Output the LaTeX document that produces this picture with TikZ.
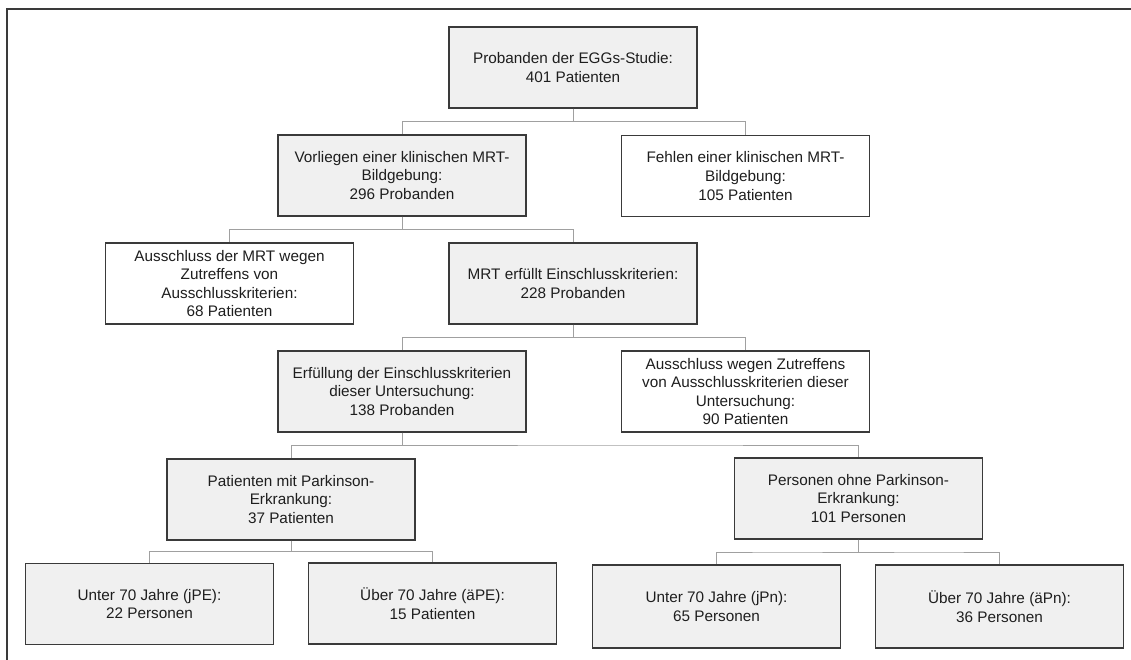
\documentclass[tikz,border=0pt]{standalone}
\usepackage{fontspec}
\setmainfont{Liberation Sans}
\usetikzlibrary{positioning, calc}
\definecolor{boxfill}{HTML}{F0F0F0}
\definecolor{boxline}{HTML}{3A3A3A}
\definecolor{linkgray}{HTML}{A0A0A0}
\definecolor{textgray}{HTML}{1E1E1E}
\tikzset{
greybox/.style={draw=boxline, fill=boxfill, line width=1.2pt, text=textgray,
  minimum width=248pt, minimum height=81pt, inner sep=0pt, align=center,
  font=\fontsize{15.3}{18.6}\selectfont},
whitebox/.style={greybox, fill=white},
link/.style={draw=linkgray, line width=1pt},
elbow/.style={to path={|- ($(\tikztostart)!0.5!(\tikztotarget)$) -| (\tikztotarget)}},
}

\begin{document}
\begin{tikzpicture}[x=1pt, y=-1pt]
    \useasboundingbox (0,0) rectangle (1131,660);

    % frame
    \draw[boxline, line width=1.3pt] (7,660) -- (7,9) -- (1131,9);

    %level 0
    \node[greybox]  (study) at (573,67.5)  {Probanden der EGGs-Studie:\\401 Patienten};

    %level 1
    \node[greybox]    (mri) at (402,175.5) {Vorliegen einer klinischen MRT-\\Bildgebung:\\296 Probanden};
    \node[whitebox] (nomri) at (745.5,176) {Fehlen einer klinischen MRT-\\Bildgebung:\\105 Patienten};

    %level 2
    \node[whitebox] (mriout) at (229.5,283.5) {Ausschluss der MRT wegen\\Zutreffens von\\Ausschlusskriterien:\\68 Patienten};
    \node[greybox]   (mriin) at (573,283.5)   {MRT erfüllt Einschlusskriterien:\\228 Probanden};

    %level 3
    \node[greybox]  (incl) at (402,391.5)   {Erfüllung der Einschlusskriterien\\dieser Untersuchung:\\138 Probanden};
    \node[whitebox] (excl) at (745.5,391.5) {Ausschluss wegen Zutreffens\\von Ausschlusskriterien dieser\\Untersuchung:\\90 Patienten};

    %level 4
    \node[greybox]   (pd) at (291,499.5)   {Patienten mit Parkinson-\\Erkrankung:\\37 Patienten};
    \node[greybox] (nopd) at (858.5,498.5) {Personen ohne Parkinson-\\Erkrankung:\\101 Personen};

    %level 5
    \node[greybox] (pdyoung) at (149.5,604)   {Unter 70 Jahre (jPE):\\22 Personen};
    \node[greybox]   (pdold) at (432.5,603.5) {Über 70 Jahre (äPE):\\15 Patienten};
    \node[greybox, minimum height=83pt] (ctyoung) at (716.5,606.5) {Unter 70 Jahre (jPn):\\65 Personen};
    \node[greybox, minimum height=83pt]   (ctold) at (999.5,606.5) {Über 70 Jahre (äPn):\\36 Personen};

    % connectors
    \draw[link] (study.south) to[elbow] (mri.north);
    \draw[link] (study.south) to[elbow] (nomri.north);

    \draw[link]   (mri.south) to[elbow] (mriout.north);
    \draw[link]   (mri.south) to[elbow] (mriin.north);

    \draw[link] (mriin.south) to[elbow] (incl.north);
    \draw[link] (mriin.south) to[elbow] (excl.north);

    \draw[link]  (incl.south) to[elbow] (pd.north);
    \draw[link]  (incl.south) to[elbow] (nopd.north);

    \draw[link]    (pd.south) to[elbow] (pdyoung.north);
    \draw[link]    (pd.south) to[elbow] (pdold.north);
    \draw[link]  (nopd.south) to[elbow] (ctyoung.north);
    \draw[link]  (nopd.south) to[elbow] (ctold.north);

\end{tikzpicture}
\end{document}
